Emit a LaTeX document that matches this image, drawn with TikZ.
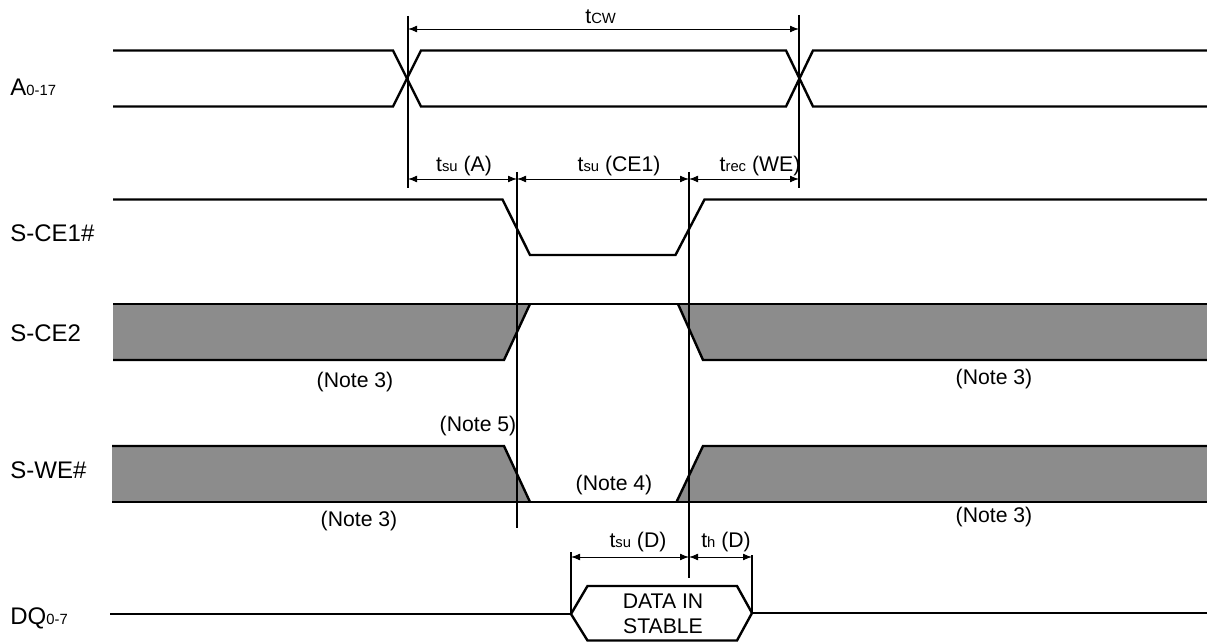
\documentclass[tikz,border=0pt]{standalone}
\usepackage{fontspec}
\setmainfont{Liberation Sans}
\usetikzlibrary{arrows.meta}
\newcommand\smallsub[1]{{\fontsize{7.4}{8}\selectfont #1}}
\begin{document}
\begin{tikzpicture}[x=0.5pt,y=-0.5pt,
  sig/.style={line width=1.2pt, line join=miter},
  guide/.style={line width=0.6pt},
  dim/.style={line width=0.45pt, {Latex[length=4.5pt,width=3.4pt]}-{Latex[length=4.5pt,width=3.4pt]}},
  shade/.style={fill=black!45},
  lbl/.style={anchor=base west, inner sep=0pt, font=\fontsize{12}{13}\selectfont},
  note/.style={anchor=base, inner sep=0pt, font=\fontsize{10.6}{12}\selectfont},
]
\useasboundingbox (0,0) rectangle (1207,642);

% signal names
\node[lbl] (nA)   at (10,96)  {A\smallsub{0-17}};
\node[lbl] (nCE1) at (10,242) {S-CE1\#};
\node[lbl] (nCE2) at (10,342) {S-CE2};
\node[lbl] (nWE)  at (10,479) {S-WE\#};
\node[lbl] (nDQ)  at (10,624) {DQ\smallsub{0-7}};

% A0-17
\draw[sig] (113,50.5) -- (393,50.5) -- (421,106.5) -- (786,106.5) -- (813,50.5) -- (1207,50.5);
\draw[sig] (113,106.5) -- (393,106.5) -- (421,50.5) -- (786,50.5) -- (813,106.5) -- (1207,106.5);

% S-CE1#
\draw[sig] (113,199.5) -- (502.5,199.5) -- (530,255) -- (675.5,255) -- (704.5,199.5) -- (1207,199.5);

% S-CE2
\fill[shade] (113,304) -- (530,304) -- (504,360) -- (113,360) -- cycle;
\fill[shade] (678,304) -- (1207,304) -- (1207,360) -- (703,360) -- cycle;
\draw[sig] (113,304) -- (1207,304);
\draw[sig] (113,360) -- (504,360) -- (530,304);
\draw[sig] (678,304) -- (703,360) -- (1207,360);

% S-WE#
\fill[shade] (112,446) -- (504,446) -- (530,502) -- (112,502) -- cycle;
\fill[shade] (676.5,502) -- (703,446) -- (1207,446) -- (1207,502) -- cycle;
\draw[sig] (112,502) -- (1207,502);
\draw[sig] (112,446) -- (504,446) -- (530,502);
\draw[sig] (676.5,502) -- (703,446) -- (1207,446);

% DQ0-7
\draw[sig] (110,614) -- (571,614);
\draw[sig] (571,614) -- (587.5,586) -- (737,586) -- (752,613) -- (737,640.5) -- (587.5,640.5) -- cycle;
\draw[sig] (752,613) -- (1207,613);
\node[note, anchor=center, align=center, font=\fontsize{10.6}{12.5}\selectfont] (data) at (663,614) {DATA IN\\STABLE};

% guide lines
\coordinate (g1t) at (408,16);  \coordinate (g1b) at (408,188);
\coordinate (g2t) at (799,15);  \coordinate (g2b) at (799,188);
\coordinate (g3t) at (517,172); \coordinate (g3b) at (517,528);
\coordinate (g4t) at (689,172); \coordinate (g4b) at (689,578);
\coordinate (g5t) at (571,552); \coordinate (g5b) at (571,614);
\coordinate (g6t) at (752,555); \coordinate (g6b) at (752,613);
\foreach \g in {1,...,6} \draw[guide] (g\g t) -- (g\g b);

% dimension arrows
\coordinate (cwL) at (408,29);  \coordinate (cwR) at (799,29);
\coordinate (aL) at (408,179);  \coordinate (aM) at (517,179);
\coordinate (aN) at (689,179);  \coordinate (aR) at (799,179);
\coordinate (dL) at (571,557);  \coordinate (dM) at (689,557);
\coordinate (dR) at (752,557);
\draw[dim] (cwL) -- (cwR);
\draw[dim] (aL) -- (aM);
\draw[dim] (aM) -- (aN);
\draw[dim] (aN) -- (aR);
\draw[dim] (dL) -- (dM);
\draw[dim] (dM) -- (dR);

% timing labels
\node[note, anchor=base west] (tcw) at (585,24) {t\smallsub{CW}};
\node[note] (tsuA)  at (464,172) {t\smallsub{su} (A)};
\node[note] (tsuCE) at (619,172) {t\smallsub{su} (CE1)};
\node[note] (trec)  at (760,172) {t\smallsub{rec} (WE)};
\node[note] (tsuD)  at (638,547) {t\smallsub{su} (D)};
\node[note] (thD)   at (726,547) {t\smallsub{h} (D)};

% notes
\node[note] (n3a) at (355,387) {(Note 3)};
\node[note] (n3b) at (994,385) {(Note 3)};
\node[note] (n5)  at (478,431) {(Note 5)};
\node[note] (n4)  at (614,490) {(Note 4)};
\node[note] (n3c) at (359,526) {(Note 3)};
\node[note] (n3d) at (994,522) {(Note 3)};
\end{tikzpicture}
\end{document}
